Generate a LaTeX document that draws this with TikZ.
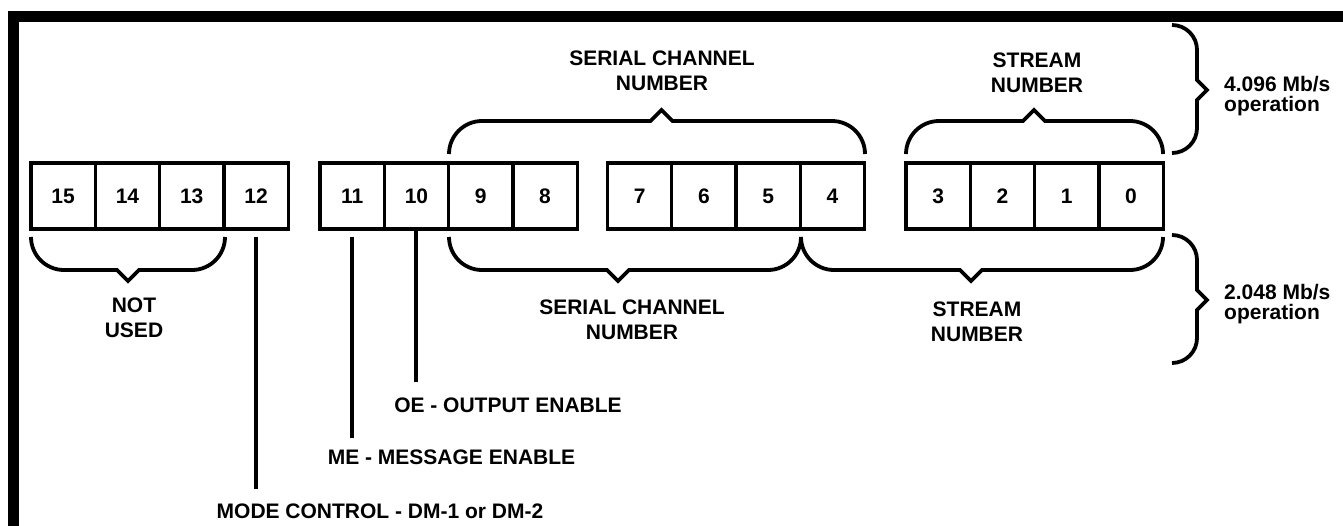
\documentclass[tikz,border=0pt]{standalone}
\usepackage{fontspec}
\setmainfont{Liberation Sans}
\begin{document}
\begin{tikzpicture}[x=1pt,y=-1pt,
  cell/.style={draw, line width=3.3pt, minimum width=64.3pt, minimum height=66pt, inner sep=0pt,
    font=\bfseries\fontsize{21}{25}\selectfont},
  lbl/.style={inner sep=0pt, align=center, font=\bfseries\fontsize{21}{25}\selectfont},
  rate/.style={inner sep=0pt, align=left, anchor=north west, font=\bfseries\fontsize{21}{20}\selectfont},
  brace/.style={line width=3.8pt},
  leader/.style={line width=4pt},
  frame/.style={line width=11pt}]
\useasboundingbox (0,0) rectangle (1343,525);
\fill[white] (0,0) rectangle (1343,525);
\clip (0,0) rectangle (1343,525);
% outer frame (continues beyond the picture)
\draw[frame] (13.5,600) -- (13.5,16) -- (1400,16);
% bit cells
\node[cell] (c15) at (63.15,196) {15};
\node[cell] (c14) at (127.45,196) {14};
\node[cell] (c13) at (191.75,196) {13};
\node[cell] (c12) at (256.05,196) {12};
\node[cell] (c11) at (352.15,196) {11};
\node[cell] (c10) at (416.45,196) {10};
\node[cell] (c9) at (480.75,196) {9};
\node[cell] (c8) at (545.05,196) {8};
\node[cell] (c7) at (639.65,196) {7};
\node[cell] (c6) at (703.95,196) {6};
\node[cell] (c5) at (768.25,196) {5};
\node[cell] (c4) at (832.55,196) {4};
\node[cell] (c3) at (938.15,196) {3};
\node[cell] (c2) at (1002.45,196) {2};
\node[cell] (c1) at (1066.75,196) {1};
\node[cell] (c0) at (1131.05,196) {0};
% brace macros
\newcommand{\bracedown}[3]{%
  \draw[brace] (#1,237) .. controls (#1,255.2) and ({#1+14.8},270) .. ({#1+33},270)
    -- ({#3-11},270) -- (#3,281) -- ({#3+11},270) -- ({#2-33},270)
    .. controls ({#2-14.8},270) and (#2,255.2) .. (#2,237);}
\newcommand{\braceup}[3]{%
  \draw[brace] (#1,154) .. controls (#1,135.8) and ({#1+14.8},121) .. ({#1+33},121)
    -- ({#3-11},121) -- (#3,110) -- ({#3+11},121) -- ({#2-33},121)
    .. controls ({#2-14.8},121) and (#2,135.8) .. (#2,154);}
\newcommand{\braceright}[3]{%
  \draw[brace] (1172,#1) .. controls (1185.8,#1) and (1197,{#1+11.2}) .. (1197,{#1+25})
    -- (1197,{#2-10}) -- (1207,#2) -- (1197,{#2+10}) -- (1197,{#3-25})
    .. controls (1197,{#3-11.2}) and (1185.8,#3) .. (1172,#3);}
\braceup{449}{865}{661.5}
\braceup{906}{1163}{1034}
\bracedown{31}{225}{128}
\bracedown{449}{801}{618}
\bracedown{801}{1163}{971}
\braceright{25}{90}{153}
\braceright{235}{300}{363}
% labels
\node[lbl, anchor=north] (sctop) at (662,51) {SERIAL CHANNEL\\NUMBER};
\node[lbl, anchor=north] (sttop) at (1037,53) {STREAM\\NUMBER};
\node[lbl, anchor=north] (notused) at (134,298) {NOT\\USED};
\node[lbl, anchor=north] (scbot) at (632,300) {SERIAL CHANNEL\\NUMBER};
\node[lbl, anchor=north] (stbot) at (977,302) {STREAM\\NUMBER};
\node[rate] (r4) at (1224,76) {4.096 Mb/s\\operation};
\node[rate] (r2) at (1224,284) {2.048 Mb/s\\operation};
\node[lbl, anchor=base] (oe) at (508,412) {OE - OUTPUT ENABLE};
\node[lbl, anchor=base] (me) at (451.5,464) {ME - MESSAGE ENABLE};
\node[lbl, anchor=base] (mode) at (380,518) {MODE CONTROL - DM-1 or DM-2};
% leaders
\draw[leader, shorten <=6pt, shorten >=14pt] (c12.south) -- (c12.south |- mode.north);
\draw[leader, shorten <=6pt, shorten >=11pt] (c11.south) -- (c11.south |- me.north);
\draw[leader, shorten >=15pt] (c10.south) -- (c10.south |- oe.north);
\end{tikzpicture}
\end{document}
